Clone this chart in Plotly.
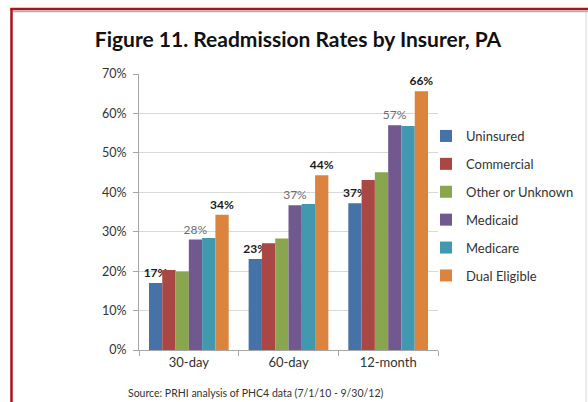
import plotly.graph_objects as go

categories = ["30-day", "60-day", "12-month"]
series_names = ["Uninsured", "Commercial", "Other or Unknown", "Medicaid", "Medicare", "Dual Eligible"]
uninsured = [17.0, 23.1, 37.2]
commercial = [20.3, 27.1, 43.1]
other_unknown = [19.9, 28.3, 45.1]
medicaid = [28.0, 36.7, 57.0]
medicare = [28.4, 37.0, 56.8]
dual_eligible = [34.3, 44.3, 65.6]
colors = ["#4572A7", "#AA4643", "#89A54E", "#71588F", "#4198AF", "#DB843D"]
y_ticks = [0, 10, 20, 30, 40, 50, 60, 70]
y_tick_labels = ["0%", "10%", "20%", "30%", "40%", "50%", "60%", "70%"]

all_values = [uninsured, commercial, other_unknown, medicaid, medicare, dual_eligible]
# which series carry labels and in which style
label_style = {0: "bold", 3: "gray", 5: "bold"}
FONT = "Lato, Open Sans, sans-serif"

fig = go.Figure()
for i, (name, vals) in enumerate(zip(series_names, all_values)):
    style = label_style.get(i)
    kw = {}
    if style:
        kw["text"] = [f"{round(v)}%" for v in vals]
        kw["textposition"] = "outside"
        kw["cliponaxis"] = False
        kw["constraintext"] = "none"
        if style == "bold":
            kw["texttemplate"] = "<b>%{text}</b>"
            kw["textfont"] = dict(family=FONT, size=12, color="#1a1a1a")
        else:
            kw["texttemplate"] = "%{text}"
            kw["textfont"] = dict(family=FONT, size=12, color="#6d6d6d")
    fig.add_trace(go.Bar(
        x=categories, y=vals, name=name, legendgroup=name,
        marker=dict(color=colors[i], line=dict(width=0)),
        **kw,
    ))

L, R, T, B = 139, 150, 74, 52
W, H = 588, 402
pw, ph = W - L - R, H - T - B

def px(x):
    return (x - L) / pw

def py(y):
    return (H - B - y) / ph

shapes = [
    # shadow lines
    dict(type="line", xref="paper", yref="paper", x0=px(13), x1=px(588), y0=py(11.5), y1=py(11.5),
         line=dict(color="#b0b0b0", width=1.5)),
    dict(type="line", xref="paper", yref="paper", x0=px(586), x1=px(586), y0=py(12), y1=py(402),
         line=dict(color="#d8d8d8", width=1)),
    # red border
    dict(type="line", xref="paper", yref="paper", x0=px(10.5), x1=px(588), y0=py(9), y1=py(9),
         line=dict(color="#A8141B", width=2.5)),
    dict(type="line", xref="paper", yref="paper", x0=px(11.5), x1=px(11.5), y0=py(8), y1=py(402),
         line=dict(color="#A8141B", width=2.5)),
]

fig.update_layout(
    width=W, height=H,
    margin=dict(l=L, r=R, t=T, b=B, autoexpand=False),
    paper_bgcolor="white", plot_bgcolor="white",
    barmode="group", bargap=0.2, bargroupgap=0,
    font=dict(family=FONT, color="#333333"),
    title=dict(text="<b>Figure 11. Readmission Rates by Insurer, PA</b>",
               xref="container", x=298 / W, xanchor="center", y=1 - 40 / H, yanchor="middle",
               font=dict(size=21, color="#111111", family=FONT)),
    xaxis=dict(showline=True, linecolor="#a6a6a6", linewidth=1,
               ticks="outside", tickcolor="#a6a6a6", ticklen=5, tickson="boundaries",
               tickfont=dict(size=13, color="#333333"), showgrid=False),
    yaxis=dict(range=[0, 70], tickvals=y_ticks, ticktext=y_tick_labels,
               showline=True, linecolor="#a6a6a6", linewidth=1,
               ticks="outside", tickcolor="#a6a6a6", ticklen=5,
               ticklabelstandoff=4,
               gridcolor="#d9d9d9", gridwidth=1,
               tickfont=dict(size=12.5, color="#333333"), zeroline=False),
    legend=dict(x=px(426), y=py(121), xanchor="left", yanchor="top",
                font=dict(size=13, color="#333333"), tracegroupgap=8,
                traceorder="grouped",
                itemwidth=30, bgcolor="rgba(0,0,0,0)"),
    annotations=[dict(text="Source: PRHI analysis of PHC4 data (7/1/10 - 9/30/12)",
                      xref="paper", yref="paper", x=px(255), y=py(393),
                      xanchor="center", yanchor="middle", showarrow=False,
                      font=dict(size=10.5, color="#333333"))],
    shapes=shapes,
)

fig.write_html("out.html", config={"displayModeBar": False},
               post_script="document.body.style.margin='0';document.body.style.overflow='hidden';")
